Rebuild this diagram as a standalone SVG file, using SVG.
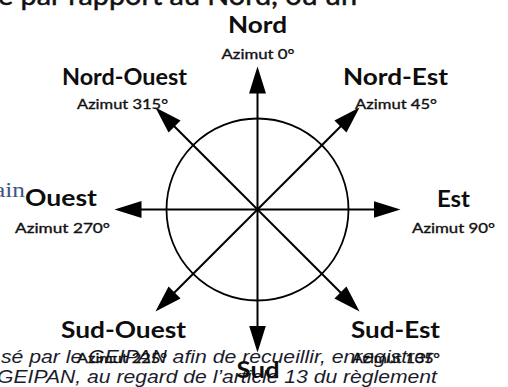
<svg xmlns="http://www.w3.org/2000/svg" width="508" height="387" viewBox="0 0 508 387">
  <defs>
    <marker id="arrow" markerUnits="userSpaceOnUse" markerWidth="28" markerHeight="18" refX="21" refY="8.5" orient="auto">
      <path d="M0,0 L27,8.5 L0,17 Z" fill="#000"/>
    </marker>
  </defs>
  <style>
    .bg { font-family: "Lato", "Liberation Sans", sans-serif; font-size: 26px; fill: #111; stroke: #111; stroke-width: 0.5; }
    .it { font-family: "Liberation Sans", Arial, sans-serif; font-style: italic; font-size: 18px; fill: #1c1c2c; }
    .sf { font-family: "Liberation Serif", serif; font-size: 20px; fill: #3d5688; }
    .dir { font-family: "Lato", "Liberation Sans", sans-serif; font-weight: bold; font-size: 22px; fill: #0d0d0d; text-anchor: middle; }
    .az { font-family: "Lato", "Liberation Sans", sans-serif; font-size: 14px; fill: #111; stroke: #111; stroke-width: 0.35; text-anchor: middle; }
    .ln { stroke: #000; stroke-width: 2; fill: none; marker-end: url(#arrow); }
    .circ { stroke: #000; stroke-width: 1.8; fill: none; }
  </style>
  <rect width="508" height="387" fill="#fff"/>

  <g id="background-text">
    <text class="bg" x="-2" y="5" textLength="359" lengthAdjust="spacingAndGlyphs">é par rapport au Nord, ou un</text>
    <text class="sf" x="-6" y="197" textLength="31" lengthAdjust="spacingAndGlyphs">ain</text>
    <text class="it" x="1" y="363" textLength="432" lengthAdjust="spacingAndGlyphs">sé par le GEIPAN afin de recueillir, enregistrer</text>
    <text class="it" x="-3" y="383" textLength="440" lengthAdjust="spacingAndGlyphs">GEIPAN, au regard de l’article 13 du règlement</text>
  </g>

  <g id="compass-circle">
    <circle class="circ" cx="257.5" cy="209.5" r="91"/>
  </g>

  <g id="connectors">
    <line class="ln" x1="257.5" y1="209.5" x2="257.5" y2="72.5"/>
    <line class="ln" x1="257.5" y1="209.5" x2="257.5" y2="346.5"/>
    <line class="ln" x1="257.5" y1="209.5" x2="120.5" y2="209.5"/>
    <line class="ln" x1="257.5" y1="209.5" x2="394.5" y2="209.5"/>
    <line class="ln" x1="257.5" y1="209.5" x2="159.7" y2="111.7"/>
    <line class="ln" x1="257.5" y1="209.5" x2="355.3" y2="111.7"/>
    <line class="ln" x1="257.5" y1="209.5" x2="159.7" y2="307.3"/>
    <line class="ln" x1="257.5" y1="209.5" x2="355.3" y2="307.3"/>
  </g>

  <g id="nord">
    <text class="dir" x="257.5" y="33" textLength="59" lengthAdjust="spacingAndGlyphs">Nord</text>
    <text class="az" x="258" y="59" textLength="73" lengthAdjust="spacingAndGlyphs">Azimut 0°</text>
  </g>
  <g id="nord-ouest">
    <text class="dir" x="124.5" y="85" textLength="125" lengthAdjust="spacingAndGlyphs">Nord-Ouest</text>
    <text class="az" x="122.5" y="109" textLength="91" lengthAdjust="spacingAndGlyphs">Azimut 315°</text>
  </g>
  <g id="nord-est">
    <text class="dir" x="395.5" y="85" textLength="105" lengthAdjust="spacingAndGlyphs">Nord-Est</text>
    <text class="az" x="396" y="109" textLength="82" lengthAdjust="spacingAndGlyphs">Azimut 45°</text>
  </g>
  <g id="ouest">
    <text class="dir" x="61" y="206" textLength="72" lengthAdjust="spacingAndGlyphs">Ouest</text>
    <text class="az" x="62.5" y="233" textLength="95" lengthAdjust="spacingAndGlyphs">Azimut 270°</text>
  </g>
  <g id="est">
    <text class="dir" x="453.5" y="207" textLength="33" lengthAdjust="spacingAndGlyphs">Est</text>
    <text class="az" x="453.5" y="233" textLength="83" lengthAdjust="spacingAndGlyphs">Azimut 90°</text>
  </g>
  <g id="sud-ouest">
    <text class="dir" x="123.5" y="338" textLength="125" lengthAdjust="spacingAndGlyphs">Sud-Ouest</text>
    <text class="az" x="122" y="363" textLength="90" lengthAdjust="spacingAndGlyphs">Azimut 225°</text>
  </g>
  <g id="sud-est">
    <text class="dir" x="395.5" y="338" textLength="89" lengthAdjust="spacingAndGlyphs">Sud-Est</text>
    <text class="az" x="396" y="363" textLength="88" lengthAdjust="spacingAndGlyphs">Azimut 135°</text>
  </g>
  <g id="sud">
    <text class="dir" x="258" y="378" textLength="43" lengthAdjust="spacingAndGlyphs">Sud</text>
  </g>
</svg>
